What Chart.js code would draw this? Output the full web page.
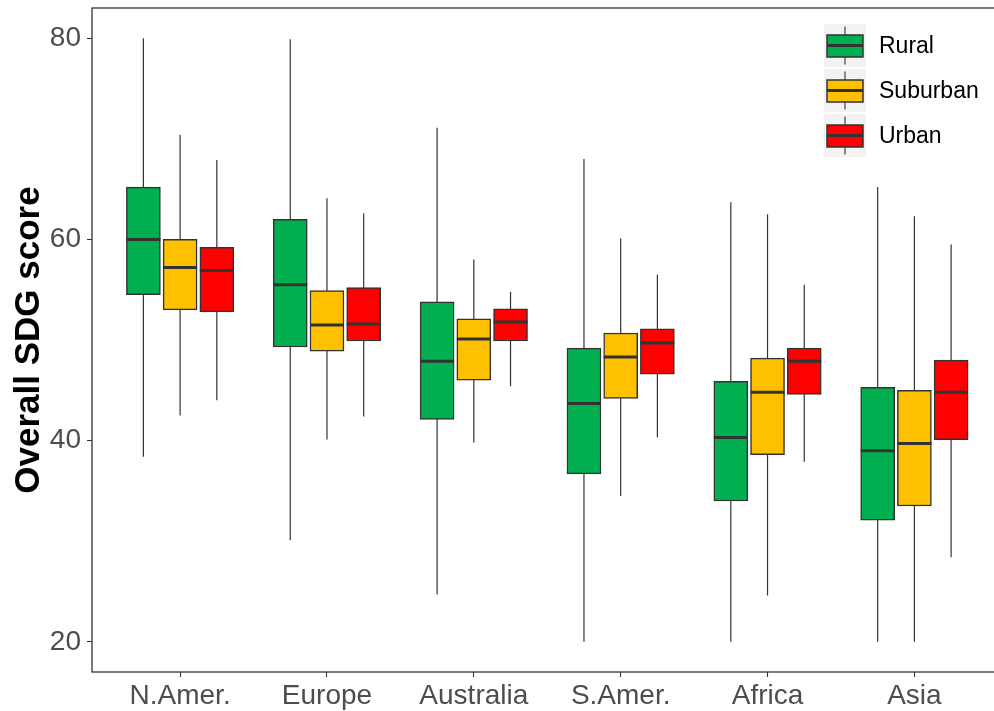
<!DOCTYPE html>
<html><head><meta charset="utf-8">
<script src="https://cdn.jsdelivr.net/npm/chart.js@4"></script>
<style>
html,body{margin:0;padding:0;background:#fff;overflow:hidden;width:994px;height:711px}
#wrap{position:relative;width:994px;height:711px;overflow:hidden}
#c{display:block}
</style>
</head><body><div id="wrap"><canvas id="c" width="1010" height="711" style="width:1010px;height:711px"></canvas></div>
<script>
const categories = ['N.Amer.','Europe','Australia','S.Amer.','Africa','Asia'];
const seriesNames = ['Rural','Suburban','Urban'];
const seriesColors = ['#00B050','#FFC000','#FF0000'];
const yTicks = [20,40,60,80];

const ruralMin = [38.4,30.1,24.7,20.0,20.0,20.0];
const ruralQ1  = [54.5,49.3,42.1,36.7,34.0,32.1];
const ruralMed = [60.0,55.5,47.9,43.7,40.3,39.0];
const ruralQ3  = [65.2,62.0,53.8,49.2,45.9,45.3];
const ruralMax = [80.0,79.9,71.1,68.0,63.7,65.2];

const suburbanMin = [42.5,40.1,39.8,34.5,24.6,20.0];
const suburbanQ1  = [53.0,48.9,46.0,44.2,38.6,33.5];
const suburbanMed = [57.2,51.5,50.1,48.3,44.8,39.7];
const suburbanQ3  = [60.0,54.9,52.1,50.7,48.2,45.0];
const suburbanMax = [70.4,64.1,58.0,60.1,62.5,62.3];

const urbanMin = [44.0,42.4,45.4,40.3,37.9,28.4];
const urbanQ1  = [52.8,49.9,49.9,46.6,44.6,40.1];
const urbanMed = [56.9,51.6,51.8,49.7,47.9,44.8];
const urbanQ3  = [59.2,55.2,53.1,51.1,49.2,48.0];
const urbanMax = [67.9,62.6,54.8,56.5,55.5,59.5];

const stats = [
  [ruralMin, ruralQ1, ruralMed, ruralQ3, ruralMax],
  [suburbanMin, suburbanQ1, suburbanMed, suburbanQ3, suburbanMax],
  [urbanMin, urbanQ1, urbanMed, urbanQ3, urbanMax]
];

const dodge = [-0.25, 0, 0.25];
const halfBox = 0.1157;
const FONT = '"Liberation Sans", Arial, sans-serif';

const datasets = [];
stats.forEach((s, k) => {
  const [mn, q1, md, q3, mx] = s;
  datasets.push({
    type: 'bar', label: seriesNames[k], order: 1,
    data: categories.map((c, i) => ({x: i + 1 + dodge[k], y: [q1[i], q3[i]]})),
    backgroundColor: seriesColors[k], borderColor: '#333333', borderWidth: 1.5,
    borderSkipped: false, barThickness: 34, grouped: false
  });
  const wh = [];
  categories.forEach((c, i) => {
    const x = i + 1 + dodge[k];
    wh.push({x, y: mn[i]}, {x, y: mx[i]}, {x, y: null});
  });
  datasets.push({
    type: 'line', label: seriesNames[k] + ' whisker', order: 2, data: wh,
    borderColor: '#333333', borderWidth: 1.2, pointRadius: 0, spanGaps: false, tension: 0
  });
  const med = [];
  categories.forEach((c, i) => {
    const x = i + 1 + dodge[k];
    med.push({x: x - halfBox, y: md[i]}, {x: x + halfBox, y: md[i]}, {x, y: null});
  });
  datasets.push({
    type: 'line', label: seriesNames[k] + ' median', order: 0, data: med,
    borderColor: '#333333', borderWidth: 3, borderCapStyle: 'butt', pointRadius: 0, spanGaps: false, tension: 0
  });
});

const framePlugin = {
  id: 'frame',
  afterDraw(chart) {
    const {ctx, chartArea: a} = chart;
    ctx.save();
    ctx.strokeStyle = '#333333';
    ctx.lineWidth = 1.3;
    ctx.strokeRect(a.left, a.top, a.right - a.left, a.bottom - a.top);
    ctx.restore();
  }
};

const legendPlugin = {
  id: 'boxLegend',
  afterDraw(chart) {
    const ctx = chart.ctx;
    const kx = 824, ky = 24, kw = 42, kh = 43, step = 45;
    ctx.save();
    seriesNames.forEach((name, k) => {
      const y0 = ky + k * step;
      ctx.fillStyle = '#f2f2f2';
      ctx.fillRect(kx, y0, kw, kh);
      const cx = kx + kw / 2;
      ctx.strokeStyle = '#333333';
      ctx.lineWidth = 1.1;
      ctx.beginPath(); ctx.moveTo(cx, y0 + 2.5); ctx.lineTo(cx, y0 + kh - 2.5); ctx.stroke();
      ctx.fillStyle = seriesColors[k];
      ctx.fillRect(kx + 3, y0 + 11, kw - 6, kh - 21);
      ctx.lineWidth = 1.5;
      ctx.strokeRect(kx + 3, y0 + 11, kw - 6, kh - 21);
      ctx.lineWidth = 3;
      ctx.beginPath(); ctx.moveTo(kx + 3, y0 + kh / 2); ctx.lineTo(kx + kw - 3, y0 + kh / 2); ctx.stroke();
      ctx.fillStyle = '#000000';
      ctx.font = '23px ' + FONT;
      ctx.textAlign = 'left';
      ctx.textBaseline = 'middle';
      ctx.fillText(name, 879, y0 + kh / 2 + 1);
    });
    ctx.restore();
  }
};

new Chart(document.getElementById('c'), {
  type: 'bar',
  data: {datasets},
  plugins: [framePlugin, legendPlugin],
  options: {
    responsive: false,
    animation: false,
    layout: {padding: {top: 8, right: 7.5, left: 0, bottom: 0}},
    plugins: {legend: {display: false}, tooltip: {enabled: false}},
    scales: {
      x: {
        type: 'linear', min: 0.4, max: 6.6, offset: false,
        afterBuildTicks: (s) => { s.ticks = categories.map((c, i) => ({value: i + 1})); },
        afterFit: (s) => { s.height = 39; s.paddingLeft = 0; s.paddingRight = 0; },
        ticks: {
          callback: (v) => categories[Math.round(v) - 1],
          font: {family: FONT, size: 28}, color: '#4d4d4d', padding: 2, maxRotation: 0, autoSkip: false
        },
        grid: {drawOnChartArea: false, offset: false, tickLength: 5, color: '#333333', tickWidth: 1.1},
        border: {display: false}
      },
      y: {
        type: 'linear', min: 17, max: 83,
        afterBuildTicks: (s) => { s.ticks = yTicks.map(v => ({value: v})); },
        afterFit: (s) => { s.width = 92; s.paddingTop = 0; s.paddingBottom = 0; },
        ticks: {font: {family: FONT, size: 28}, color: '#4d4d4d', padding: 6},
        grid: {drawOnChartArea: false, tickLength: 5, color: '#333333', tickWidth: 1.1},
        border: {display: false},
        title: {display: true, text: 'Overall SDG score', color: '#000000',
          font: {family: FONT, size: 35, weight: 'bold', lineHeight: 1}, padding: {top: 12, bottom: 0}}
      }
    }
  }
});
</script>
</body></html>
